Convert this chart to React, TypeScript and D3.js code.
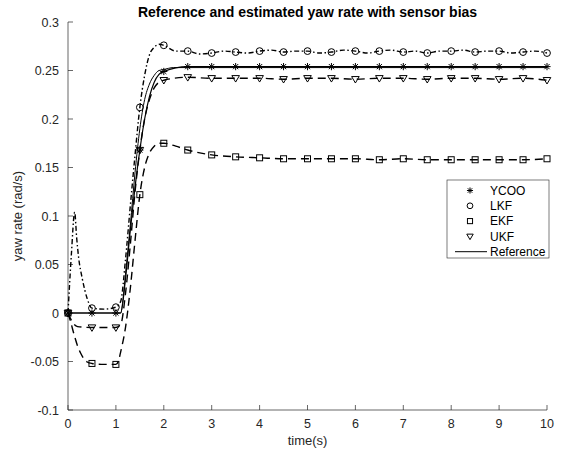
import React from "react";
import * as d3 from "d3";

const xTicks = [0, 1, 2, 3, 4, 5, 6, 7, 8, 9, 10];
const yTicks = [-0.1, -0.05, 0, 0.05, 0.1, 0.15, 0.2, 0.25, 0.3];
const yTickLabels = ["-0.1", "-0.05", "0", "0.05", "0.1", "0.15", "0.2", "0.25", "0.3"];
const markerTimes = [0, 0.5, 1, 1.5, 2, 2.5, 3, 3.5, 4, 4.5, 5, 5.5, 6, 6.5, 7, 7.5, 8, 8.5, 9, 9.5, 10];

const refT = [0, 1.1, 1.15, 1.2, 1.3, 1.4, 1.5, 1.6, 1.7, 1.8, 1.9, 2.0, 2.2, 2.5, 10];
const refY = [0, 0, 0.015, 0.04, 0.09, 0.145, 0.19, 0.22, 0.236, 0.245, 0.25, 0.251, 0.253, 0.253, 0.253];

const ycooT = [0, 0.5, 1, 1.1, 1.2, 1.3, 1.4, 1.5, 1.6, 1.7, 1.8, 1.9, 2, 2.5, 3, 3.5, 4, 4.5, 5, 5.5, 6, 6.5, 7, 7.5, 8, 8.5, 9, 9.5, 10];
const ycooY = [0, 0, 0, 0, 0.035, 0.085, 0.13, 0.168, 0.2, 0.223, 0.238, 0.246, 0.249, 0.254, 0.254, 0.254, 0.254, 0.254, 0.254, 0.254, 0.254, 0.254, 0.254, 0.254, 0.254, 0.254, 0.254, 0.254, 0.254];

const lkfT = [0, 0.07, 0.14, 0.18, 0.22, 0.3, 0.4, 0.5, 0.75, 1, 1.1, 1.2, 1.3, 1.4, 1.5, 1.6, 1.7, 1.8, 1.9, 2, 2.25, 2.5, 2.75, 3, 3.25, 3.5, 3.75, 4, 4.25, 4.5, 4.75, 5, 5.25, 5.5, 5.75, 6, 6.25, 6.5, 6.75, 7, 7.25, 7.5, 7.75, 8, 8.25, 8.5, 8.75, 9, 9.25, 9.5, 9.75, 10];
const lkfY = [0, 0.06, 0.104, 0.078, 0.058, 0.035, 0.015, 0.005, 0.004, 0.006, 0.012, 0.055, 0.11, 0.163, 0.212, 0.245, 0.266, 0.274, 0.277, 0.276, 0.27, 0.27, 0.267, 0.268, 0.27, 0.269, 0.268, 0.27, 0.271, 0.269, 0.27, 0.27, 0.268, 0.269, 0.271, 0.27, 0.268, 0.27, 0.271, 0.269, 0.27, 0.268, 0.27, 0.27, 0.271, 0.269, 0.27, 0.27, 0.268, 0.269, 0.27, 0.268];

const ekfT = [0, 0.06, 0.12, 0.2, 0.26, 0.33, 0.4, 0.5, 0.75, 1, 1.05, 1.1, 1.2, 1.3, 1.4, 1.5, 1.6, 1.7, 1.8, 1.9, 2, 2.25, 2.5, 3, 3.5, 4, 4.5, 5, 5.5, 6, 6.5, 7, 7.5, 8, 8.5, 9, 9.5, 10];
const ekfY = [0, -0.01, -0.021, -0.034, -0.041, -0.047, -0.0505, -0.052, -0.053, -0.053, -0.05, -0.04, -0.015, 0.025, 0.075, 0.122, 0.15, 0.165, 0.172, 0.175, 0.175, 0.172, 0.168, 0.163, 0.161, 0.16, 0.159, 0.159, 0.159, 0.159, 0.158, 0.159, 0.158, 0.158, 0.158, 0.158, 0.158, 0.159];

const ukfT = [0, 0.1, 0.2, 0.5, 1, 1.1, 1.2, 1.3, 1.4, 1.5, 1.6, 1.7, 1.8, 1.9, 2, 2.5, 3, 3.5, 4, 4.5, 5, 5.5, 6, 6.5, 7, 7.5, 8, 8.5, 9, 9.5, 10];
const ukfY = [0, -0.01, -0.014, -0.015, -0.015, -0.012, 0.02, 0.07, 0.125, 0.168, 0.2, 0.22, 0.232, 0.238, 0.24, 0.243, 0.242, 0.242, 0.242, 0.241, 0.242, 0.242, 0.241, 0.242, 0.242, 0.241, 0.242, 0.242, 0.241, 0.242, 0.24];

const legendLabels = ["YCOO", "LKF", "EKF", "UKF", "Reference"];

const W = 568, H = 455;
const X0 = 68, X1 = 547, Y0 = 410, Y1 = 22;
const FONT = "'Liberation Sans', Arial, Helvetica, sans-serif";
const AX = "#262626";

type Mk = "star" | "circle" | "square" | "tri";

function Marker({ kind, x, y, s = 1 }: { kind: Mk; x: number; y: number; s?: number }) {
  const st = { fill: "none", stroke: "#000", strokeWidth: 1 };
  if (kind === "star") {
    const r = 3.6 * s, d = r * 0.72;
    return (
      <g {...st}>
        <line x1={x - r} y1={y} x2={x + r} y2={y} />
        <line x1={x} y1={y - r} x2={x} y2={y + r} />
        <line x1={x - d} y1={y - d} x2={x + d} y2={y + d} />
        <line x1={x - d} y1={y + d} x2={x + d} y2={y - d} />
      </g>
    );
  }
  if (kind === "circle") return <circle cx={x} cy={y} r={3.4 * s} {...st} />;
  if (kind === "square") {
    const h = 3 * s;
    return <rect x={x - h} y={y - h} width={2 * h} height={2 * h} {...st} />;
  }
  const h = 3.8 * s;
  return <path d={`M${x - h},${y - h * 0.7}L${x + h},${y - h * 0.7}L${x},${y + h}Z`} {...st} />;
}

export default function App() {
  const x = d3.scaleLinear().domain([0, 10]).range([X0, X1]);
  const y = d3.scaleLinear().domain([-0.1, 0.3]).range([Y0, Y1]);
  const line = d3.line<[number, number]>().x((d) => x(d[0])).y((d) => y(d[1])).curve(d3.curveMonotoneX);
  const pts = (t: number[], v: number[]) => t.map((ti, i) => [ti, v[i]] as [number, number]);
  const mkPts = (t: number[], v: number[]) =>
    markerTimes.map((m) => {
      const i = t.findIndex((ti) => Math.abs(ti - m) < 1e-9);
      return [m, v[i]] as [number, number];
    }).filter((d) => d[1] !== undefined);

  const series = [
    { t: ekfT, v: ekfY, mk: "square" as Mk, dash: "8,5", w: 1.4 },
    { t: ukfT, v: ukfY, mk: "tri" as Mk, dash: "8,5", w: 1.4 },
    { t: lkfT, v: lkfY, mk: "circle" as Mk, dash: "5,2.5,1.5,2.5", w: 1.4 },
    { t: ycooT, v: ycooY, mk: "star" as Mk, dash: "", w: 1.2 },
  ];

  const legendMk: Mk[] = ["star", "circle", "square", "tri"];
  const lgX = 447, lgY = 180, lgW = 102, lgH = 78;

  return (
    <svg width={W} height={H} style={{ position: "absolute", left: 0, top: 0, background: "#fff" }} fontFamily={FONT}>
      <rect x={0} y={0} width={W} height={H} fill="#fff" />
      <text x={(X0 + X1) / 2} y={17} textAnchor="middle" fontSize={14} fontWeight="bold" fill="#000">
        Reference and estimated yaw rate with sensor bias
      </text>

      {/* axes */}
      <line x1={X0} y1={Y0} x2={X1} y2={Y0} stroke={AX} strokeWidth={0.7} />
      <line x1={X0} y1={Y0} x2={X0} y2={Y1} stroke={AX} strokeWidth={0.7} />
      {xTicks.map((t) => (
        <g key={"x" + t}>
          <line x1={x(t)} x2={x(t)} y1={Y0} y2={Y0 - 5} stroke={AX} strokeWidth={0.7} />
          <text x={x(t)} y={Y0 + 18} textAnchor="middle" fontSize={12.5} fill={AX}>{t}</text>
        </g>
      ))}
      {yTicks.map((t, i) => (
        <g key={"y" + i}>
          <line x1={X0} x2={X0 + 5} y1={y(t)} y2={y(t)} stroke={AX} strokeWidth={0.7} />
          <text x={X0 - 9} y={y(t) + 4.5} textAnchor="end" fontSize={12.5} fill={AX}>{yTickLabels[i]}</text>
        </g>
      ))}
      <text x={(X0 + X1) / 2} y={445} textAnchor="middle" fontSize={13} fill={AX}>time(s)</text>
      <text transform={`translate(22,${(Y0 + Y1) / 2}) rotate(-90)`} textAnchor="middle" fontSize={13} fill={AX}>
        yaw rate (rad/s)
      </text>

      {/* reference */}
      <path d={line(pts(refT, refY)) || ""} fill="none" stroke="#000" strokeWidth={1} />
      {series.map((s, i) => (
        <g key={"s" + i}>
          <path d={line(pts(s.t, s.v)) || ""} fill="none" stroke="#000" strokeWidth={s.w} strokeDasharray={s.dash || undefined} />
          {mkPts(s.t, s.v).map((p, j) => (
            <Marker key={j} kind={s.mk} x={x(p[0])} y={y(p[1])} />
          ))}
        </g>
      ))}

      {/* legend */}
      <rect x={lgX} y={lgY} width={lgW} height={lgH} fill="#fff" stroke="#262626" strokeWidth={0.6} />
      {legendLabels.map((lab, i) => {
        const cy = lgY + 10.5 + i * 15.3;
        return (
          <g key={"l" + i}>
            {i < 4 ? (
              <Marker kind={legendMk[i]} x={lgX + 23} y={cy} s={0.85} />
            ) : (
              <line x1={lgX + 8} x2={lgX + 40} y1={cy} y2={cy} stroke="#000" strokeWidth={1} />
            )}
            <text x={lgX + 43} y={cy + 4.3} fontSize={12} fill="#000">{lab}</text>
          </g>
        );
      })}
    </svg>
  );
}
